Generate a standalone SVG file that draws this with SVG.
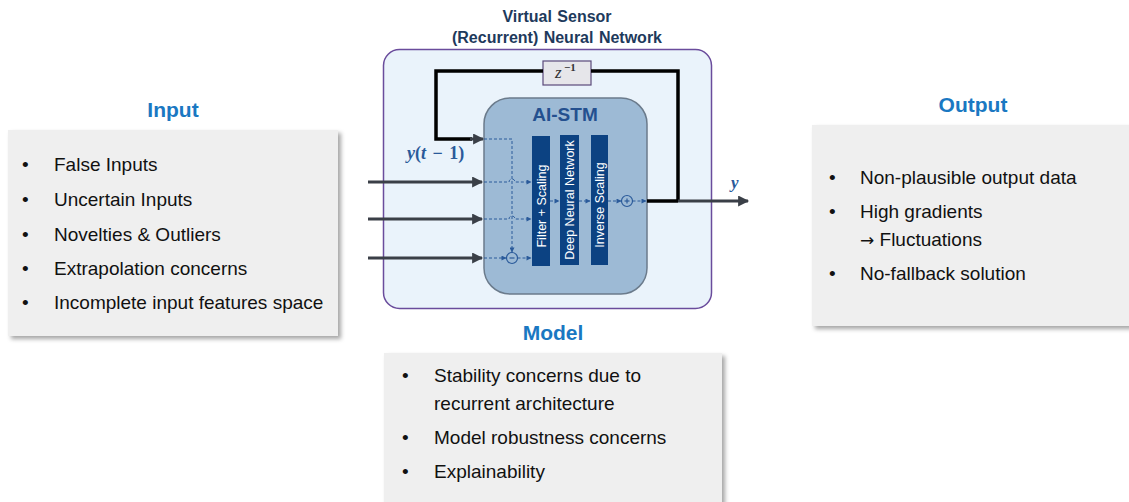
<svg xmlns="http://www.w3.org/2000/svg" width="1129" height="502" viewBox="0 0 1129 502">
<defs>
  <marker id="ah" viewBox="0 0 10 10" refX="9" refY="5" markerWidth="13" markerHeight="11" markerUnits="userSpaceOnUse" orient="auto">
    <path d="M0,0 L10,5 L0,10 z" fill="#3a3f47"/>
  </marker>
  <marker id="sa" viewBox="0 0 10 10" refX="9" refY="5" markerWidth="6" markerHeight="5" markerUnits="userSpaceOnUse" orient="auto">
    <path d="M0,0 L10,5 L0,10 z" fill="#2a5a9a"/>
  </marker>
  <filter id="sh" x="-5%" y="-5%" width="115%" height="115%">
    <feDropShadow dx="3" dy="3" stdDeviation="2" flood-color="#000" flood-opacity="0.35"/>
  </filter>
</defs>
<style>
  .panel { fill: #efefef; filter: url(#sh); }
  .head { font-family: "Liberation Sans", Arial, sans-serif; font-weight: bold; font-size: 21px; fill: #1a78c2; text-anchor: middle; }
  .item { font-family: "Liberation Sans", Arial, sans-serif; font-size: 19px; fill: #111; }
  .title { font-family: "Liberation Sans", Arial, sans-serif; font-weight: bold; font-size: 16px; fill: #1e3a5c; text-anchor: middle; word-spacing: 1px; }
  .bar { fill: #0c4282; }
  .bartxt { font-family: "Liberation Sans", Arial, sans-serif; font-size: 12.5px; fill: #ffffff; text-anchor: middle; dominant-baseline: central; }
  .math { font-family: "Liberation Serif", "Times New Roman", serif; font-weight: bold; fill: #2a5a9a; }
  .dash { fill: none; stroke: #2a5a9a; stroke-width: 1; stroke-dasharray: 3 2; }
  .op { fill: none; stroke: #2a5a9a; stroke-width: 1.2; }
  .thick { fill: none; stroke: #000; stroke-width: 3.5; }
  .gray { fill: none; stroke: #3a3f47; stroke-width: 3; }
</style>

<g id="title">
  <text class="title" x="557" y="22">Virtual Sensor</text>
  <text class="title" x="557" y="43">(Recurrent) Neural Network</text>
</g>

<g id="virtual-sensor">
  <rect x="383.5" y="49.5" width="328" height="259" rx="16" fill="#eaf3fb" stroke="#6a4c9c" stroke-width="1.5"/>
</g>

<g id="ai-stm">
  <rect x="484" y="98" width="163" height="196" rx="26" fill="#9dbad5" stroke="#6b7b8c" stroke-width="1.5"/>
  <text x="565" y="121" font-family="Liberation Sans, Arial, sans-serif" font-weight="bold" font-size="19" fill="#24508f" text-anchor="middle">AI-STM</text>
</g>

<g id="filter-scaling">
  <rect class="bar" x="532" y="136" width="18" height="130"/>
  <text class="bartxt" transform="translate(541.5 206) rotate(-90)">Filter + Scaling</text>
</g>
<g id="deep-neural-network">
  <rect class="bar" x="560" y="135" width="19" height="130"/>
  <text class="bartxt" transform="translate(570 200) rotate(-90)">Deep Neural Network</text>
</g>
<g id="inverse-scaling">
  <rect class="bar" x="591" y="135" width="17" height="130"/>
  <text class="bartxt" transform="translate(600 205) rotate(-90)">Inverse Scaling</text>
</g>

<g id="delay">
  <rect x="543" y="61" width="48" height="24" fill="#e6e6ea" stroke="#5a4a7a" stroke-width="1.2"/>
  <text x="555" y="78" font-family="Liberation Serif, Times New Roman, serif" font-style="italic" font-size="17" fill="#333">z</text>
  <text x="564" y="71" font-family="Liberation Serif, Times New Roman, serif" font-weight="bold" font-size="11" fill="#333">−1</text>
</g>

<g id="minus-op">
  <circle class="op" cx="512" cy="258" r="5.5"/>
  <line x1="509.5" y1="258" x2="514.5" y2="258" stroke="#2a5a9a" stroke-width="1.2"/>
</g>
<g id="plus-op">
  <circle class="op" cx="627" cy="201" r="5.5"/>
  <line x1="624.5" y1="201" x2="629.5" y2="201" stroke="#2a5a9a" stroke-width="1.2"/>
  <line x1="627" y1="198.5" x2="627" y2="203.5" stroke="#2a5a9a" stroke-width="1.2"/>
</g>

<g id="connectors">
  <path class="gray" d="M368,182 H482" marker-end="url(#ah)"/>
  <path class="gray" d="M368,219 H482" marker-end="url(#ah)"/>
  <path class="gray" d="M368,258 H482" marker-end="url(#ah)"/>
  <path class="thick" d="M591,71 H678 V201"/>
  <path class="thick" d="M543,71 H436 V139 H472"/>
  <path class="gray" d="M470,139 H483" marker-end="url(#ah)"/>
  <path class="thick" d="M647,201 H678"/>
  <path class="gray" d="M678,201 H748" marker-end="url(#ah)"/>
  <path class="dash" d="M484,139 H512 V252" marker-end="url(#sa)"/>
  <path class="dash" d="M484,182 H509 a3,3 0 0 1 6,0 H531" marker-end="url(#sa)"/>
  <path class="dash" d="M484,219 H509 a3,3 0 0 1 6,0 H531" marker-end="url(#sa)"/>
  <path class="dash" d="M484,258 H506" marker-end="url(#sa)"/>
  <path class="dash" d="M517.5,258 H531" marker-end="url(#sa)"/>
  <path class="dash" d="M550,201 H559" marker-end="url(#sa)"/>
  <path class="dash" d="M579,201 H590" marker-end="url(#sa)"/>
  <path class="dash" d="M608,201 H621" marker-end="url(#sa)"/>
  <path class="dash" d="M632.5,201 H646" marker-end="url(#sa)"/>
  <text class="math" x="407" y="159" font-size="18" word-spacing="2"><tspan font-style="italic">y</tspan>(<tspan font-style="italic">t</tspan> − 1)</text>
  <text class="math" x="731" y="188" font-size="17" font-style="italic" fill="#2a4a7f">y</text>
</g>

<g id="input">
  <text class="head" x="173" y="117">Input</text>
  <rect class="panel" x="8" y="130" width="330" height="206"/>
  <g class="item">
    <text x="22" y="171">•</text><text x="54" y="171">False Inputs</text>
    <text x="22" y="206">•</text><text x="54" y="206">Uncertain Inputs</text>
    <text x="22" y="241">•</text><text x="54" y="241">Novelties &amp; Outliers</text>
    <text x="22" y="275">•</text><text x="54" y="275">Extrapolation concerns</text>
    <text x="22" y="309">•</text><text x="54" y="309">Incomplete input features space</text>
  </g>
</g>

<g id="output">
  <text class="head" x="973" y="112">Output</text>
  <rect class="panel" x="812" y="125" width="330" height="201"/>
  <g class="item">
    <text x="829" y="184">•</text><text x="860" y="184">Non-plausible output data</text>
    <text x="829" y="218">•</text><text x="860" y="218">High gradients</text>
    <text x="860" y="246"><tspan font-family="DejaVu Sans, sans-serif" font-size="17">→</tspan> Fluctuations</text>
    <text x="829" y="280">•</text><text x="860" y="280">No-fallback solution</text>
  </g>
</g>

<g id="model">
  <text class="head" x="553" y="340">Model</text>
  <rect class="panel" x="384" y="353" width="338" height="160"/>
  <g class="item">
    <text x="402" y="382">•</text><text x="434" y="382">Stability concerns due to</text>
    <text x="434" y="410">recurrent architecture</text>
    <text x="402" y="444">•</text><text x="434" y="444">Model robustness concerns</text>
    <text x="402" y="478">•</text><text x="434" y="478">Explainability</text>
  </g>
</g>
</svg>
